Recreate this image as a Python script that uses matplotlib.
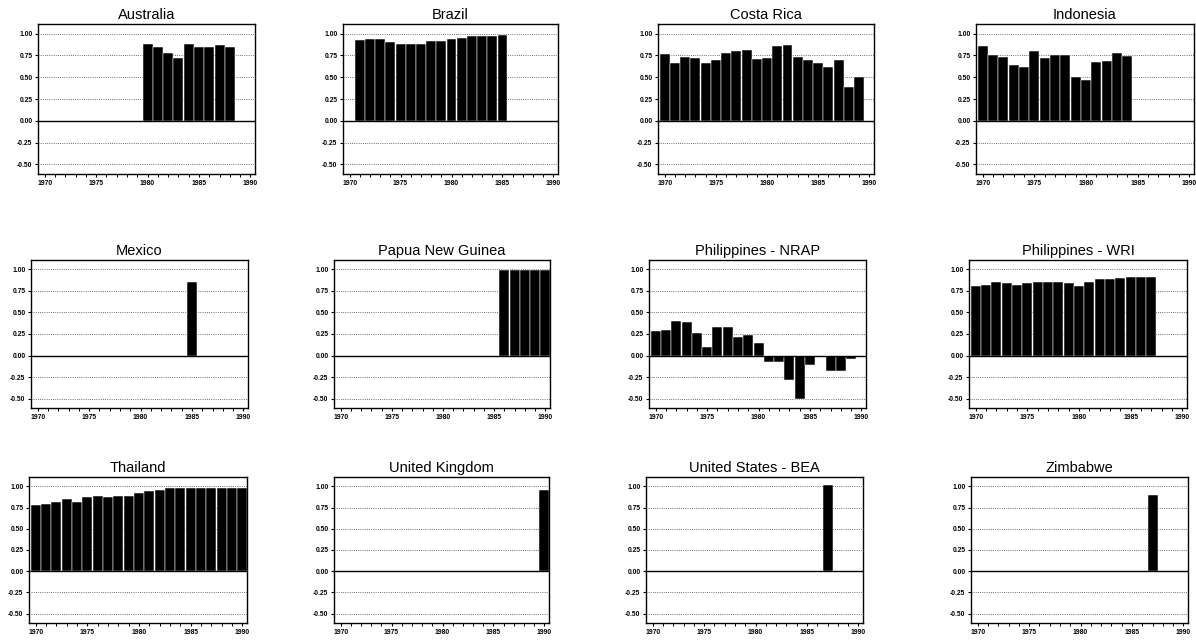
import matplotlib
matplotlib.use("Agg")
import matplotlib.pyplot as plt
from matplotlib.ticker import MultipleLocator, FixedLocator
import numpy as np

plt.rcParams['font.family'] = ['Liberation Sans', 'DejaVu Sans']

# ---- data: share per year, each series starts at its first year ----
australia_start = 1980
australia = [0.88, 0.85, 0.78, 0.72, 0.88, 0.85, 0.85, 0.87, 0.85]

brazil_start = 1971
brazil = [0.93, 0.94, 0.935, 0.90, 0.875, 0.885, 0.885, 0.91, 0.92, 0.94,
          0.95, 0.97, 0.97, 0.97, 0.98]

costa_rica_start = 1970
costa_rica = [0.77, 0.66, 0.73, 0.72, 0.66, 0.70, 0.78, 0.80, 0.81, 0.71,
              0.72, 0.86, 0.87, 0.73, 0.70, 0.66, 0.62, 0.70, 0.39, 0.50]

indonesia_start = 1970
indonesia = [0.86, 0.75, 0.73, 0.64, 0.62, 0.80, 0.72, 0.75, 0.75, 0.50,
             0.47, 0.67, 0.69, 0.78, 0.74]

mexico_start = 1985
mexico = [0.85]

png_start = 1986
papua_new_guinea = [0.99, 0.99, 0.99, 0.99, 0.99]

nrap_start = 1970
philippines_nrap = [0.28, 0.30, 0.40, 0.39, 0.26, 0.10, 0.33, 0.33, 0.22, 0.24,
                    0.15, -0.08, -0.07, -0.29, -0.51, -0.11, 0.0, -0.18, -0.18, -0.04]

wri_start = 1970
philippines_wri = [0.81, 0.82, 0.85, 0.84, 0.82, 0.84, 0.86, 0.85, 0.86, 0.84,
                   0.81, 0.85, 0.89, 0.885, 0.90, 0.915, 0.915, 0.91]

thailand_start = 1970
thailand = [0.78, 0.795, 0.81, 0.85, 0.82, 0.88, 0.885, 0.87, 0.89, 0.89,
            0.92, 0.95, 0.96, 0.98, 0.98, 0.985, 0.985, 0.98, 0.98, 0.985, 0.985]

uk_start = 1990
united_kingdom = [0.96]

bea_start = 1987
united_states_bea = [1.02]

zimbabwe_start = 1987
zimbabwe = [0.90]

titles = ["Australia", "Brazil", "Costa Rica", "Indonesia",
          "Mexico", "Papua New Guinea", "Philippines - NRAP", "Philippines - WRI",
          "Thailand", "United Kingdom", "United States - BEA", "Zimbabwe"]
series = [(australia_start, australia), (brazil_start, brazil),
          (costa_rica_start, costa_rica), (indonesia_start, indonesia),
          (mexico_start, mexico), (png_start, papua_new_guinea),
          (nrap_start, philippines_nrap), (wri_start, philippines_wri),
          (thailand_start, thailand), (uk_start, united_kingdom),
          (bea_start, united_states_bea), (zimbabwe_start, zimbabwe)]

grid_levels = [1.00, 0.75, 0.50, 0.25, -0.25, -0.50]
ytick_vals = [1.00, 0.75, 0.50, 0.25, 0.00, -0.25, -0.50]
xtick_major = [1970, 1975, 1980, 1985, 1990]

# ---- layout (pixel boxes: left, right, top, bottom) ----
W, H = 1196, 641
boxes = [
    (38, 255, 24, 174), (343, 558, 24, 174), (658, 874, 24, 174), (976, 1194, 24, 174),
    (31, 248, 260, 408), (334, 550, 260, 408), (649, 866, 260, 408), (969, 1187, 260, 408),
    (29, 247, 477, 623), (334, 549, 477, 623), (646, 863, 477, 623), (971, 1188, 477, 623),
]

fig = plt.figure(figsize=(W / 100, H / 100), dpi=100)
fig.patch.set_facecolor("white")

for title, (start, vals), (l, r, t, b) in zip(titles, series, boxes):
    ax = fig.add_axes([l / W, 1 - b / H, (r - l) / W, (b - t) / H])
    years = np.arange(start, start + len(vals))
    for g in grid_levels:
        ax.axhline(g, color="0.25", lw=0.6, ls=(0, (1, 1.6)), zorder=1)
    ax.bar(years, vals, width=0.97, color="black", edgecolor="white",
           linewidth=0.35, zorder=2)
    ax.axhline(0.0, color="black", lw=1.0, zorder=3)

    ax.set_xlim(1969.35, 1990.45)
    ax.set_ylim(-0.61, 1.11)
    ax.xaxis.set_major_locator(FixedLocator(xtick_major))
    ax.xaxis.set_minor_locator(MultipleLocator(1))
    ax.yaxis.set_major_locator(FixedLocator(ytick_vals))
    ax.set_yticklabels([f"{v:.2f}" for v in ytick_vals])
    ax.set_xticklabels([str(v) for v in xtick_major])
    ax.tick_params(axis="both", which="major", labelsize=4.9, length=2.5,
                   width=0.8, direction="out", pad=1.5, colors="black")
    ax.tick_params(axis="x", which="minor", length=2.0, width=0.7, direction="out")
    for lab in ax.get_xticklabels() + ax.get_yticklabels():
        lab.set_fontweight("bold")
    for sp in ax.spines.values():
        sp.set_linewidth(1.0)
        sp.set_color("black")
    ax.set_title(title, fontsize=10.5, pad=3.5, color="black")

fig.savefig("out.png", dpi=100, facecolor="white")
